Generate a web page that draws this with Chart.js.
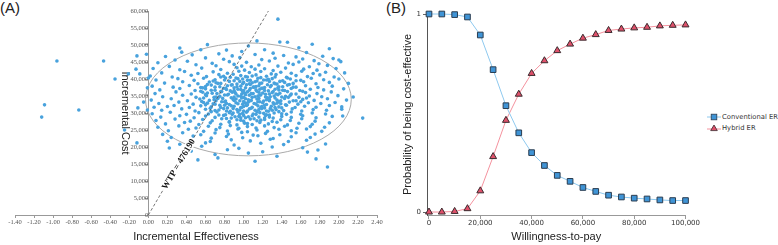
<!DOCTYPE html>
<html>
<head>
<meta charset="utf-8">
<script src="https://cdn.jsdelivr.net/npm/chart.js@4"></script>
<style>
  body { margin: 0; background: #fff; width: 778px; height: 245px; overflow: hidden; position: relative; font-family: "Liberation Sans", Arial, sans-serif; }
  .tag { position: absolute; font-size: 15px; line-height: 17px; color: #222; }
  #boxA { position: absolute; left: 0; top: 0; width: 390px; height: 245px; }
  #boxB { position: absolute; left: 390px; top: 0; width: 310px; height: 245px; }
  #legendB { position: absolute; left: 707px; top: 112px; font: 6.8px "DejaVu Sans", sans-serif; color: #333; }
  #legendB div { height: 10.5px; display: flex; align-items: center; }
  #legendB svg { margin-right: 1px; }
</style>
</head>
<body>
<div class="tag" style="left:0px; top:-1px;">(A)</div>
<div class="tag" style="left:386px; top:-1px;">(B)</div>
<div id="boxA"><canvas id="chartA"></canvas></div>
<div id="boxB"><canvas id="chartB"></canvas></div>
<div id="legendB">
  <div><svg width="14" height="8"><line x1="0" y1="4" x2="14" y2="4" stroke="#8ec9ef" stroke-width="1"/><rect x="4.2" y="1.2" width="5.6" height="5.6" fill="#3f94d6" stroke="#2b3d50" stroke-width="0.8"/></svg>Conventional ER</div>
  <div><svg width="14" height="8"><line x1="0" y1="5" x2="14" y2="5" stroke="#f4929e" stroke-width="1"/><polygon points="7,1 10.3,6.6 3.7,6.6" fill="#e0506a" stroke="#3a2a2e" stroke-width="0.8"/></svg>Hybrid ER</div>
</div>
<script>
// ---------------- panel A : cost-effectiveness plane ----------------
var xTicksA = [-1.4, -1.2, -1.0, -0.8, -0.6, -0.4, -0.2, 0, 0.2, 0.4, 0.6, 0.8, 1.0, 1.2, 1.4, 1.6, 1.8, 2.0, 2.2, 2.4];
var yTicksA = [0, 5000, 10000, 15000, 20000, 25000, 30000, 35000, 40000, 45000, 50000, 55000, 60000];

// incremental effectiveness, incremental cost (thousands)
var outliers = [[-0.96,45.3],[-0.47,45.3],[-1.09,32.4],[-0.73,30.9],[-1.12,28.8],[-0.12,46.8],[-0.02,47.3],
  [-0.13,42.9],[-0.21,41.5],[-0.09,41.5],[0.0,40.3],[-0.01,37.4],[-0.35,40.0],[-0.05,33.2],[-0.01,30.9],
  [-0.11,31.5],[-0.25,25.0],[-0.12,21.2],[2.25,28.5],[2.03,31.8],[2.04,29.1],[2.0,45.6],[1.36,57.6],
  [1.88,14.1],[1.76,16.5],[1.86,20.9],[1.78,19.1],[1.67,18.5],[0.52,16.2],[0.73,16.8],[1.46,50.8]];

var cloud = [
  [1.14,51.2],[1.38,50.9],[0.62,50.1],[1.72,50.2],[1.05,49.7],
  [0.33,49.1],[0.55,48.6],[0.82,48.5],[1.22,48.6],[1.58,49.2],[1.9,48.9],
  [0.35,47.9],[0.98,48.1],[1.31,47.6],[1.66,47.8],[0.74,47.4],
  [0.18,46.6],[0.46,47.1],[0.88,46.8],[1.12,47.2],[1.42,46.9],[1.55,46.5],[1.83,46.7],
  [0.28,45.6],[0.6,46.2],[0.79,45.8],[0.96,46.3],[1.19,45.7],[1.33,46.1],[1.62,45.9],[1.74,45.4],[1.94,46.0],
  [0.1,44.8],[0.41,45.2],[0.67,44.6],[0.85,45.1],[1.03,44.9],[1.27,45.3],[1.47,44.7],[1.58,45.0],[1.79,44.5],[2.02,45.1],
  [0.22,43.7],[0.5,44.2],[0.71,43.9],[0.9,44.3],[1.08,43.6],[1.16,44.1],[1.36,43.8],[1.52,44.3],[1.69,43.6],[1.88,44.0],[0.98,43.8],
  [0.05,43.1],[0.33,42.7],[0.56,43.2],[0.76,42.8],[0.93,43.3],[1.01,42.6],[1.22,43.0],[1.31,42.5],[1.44,43.2],[1.63,42.9],[1.77,42.6],[1.97,43.1],[1.12,42.9],
  [0.14,41.8],[0.38,42.2],[0.52,41.6],[0.68,42.1],[0.83,41.7],[0.95,42.3],[1.06,41.9],[1.18,42.2],[1.29,41.5],[1.39,42.0],[1.5,41.7],[1.61,42.3],[1.73,41.6],[1.86,42.0],[2.06,41.8],[0.89,41.4],
  [0.02,40.9],[0.25,40.6],[0.45,41.1],[0.61,40.7],[0.74,41.3],[0.86,40.5],[0.97,41.0],[1.04,40.6],[1.13,41.2],[1.24,40.8],[1.34,41.3],[1.45,40.5],[1.55,41.0],[1.67,40.7],[1.8,41.2],[1.95,40.6],[1.09,40.9],[0.79,40.8],
  [0.08,39.7],[0.31,40.1],[0.48,39.6],[0.58,40.2],[0.7,39.8],[0.81,40.3],[0.9,39.5],[0.99,40.0],[1.07,39.6],[1.15,40.2],[1.21,39.7],[1.3,40.1],[1.41,39.5],[1.49,40.0],[1.6,39.6],[1.71,40.2],[1.84,39.8],[2.0,40.0],[1.26,39.9],[0.94,40.1],
  [0.17,38.8],[0.36,39.2],[0.52,38.6],[0.64,39.1],[0.76,38.7],[0.85,39.3],[0.93,38.5],[1.0,39.0],[1.06,38.6],[1.12,39.2],[1.19,38.8],[1.27,39.3],[1.35,38.5],[1.43,39.0],[1.52,38.7],[1.63,39.2],[1.76,38.6],[1.9,39.0],[0.71,38.9],[1.09,38.9],[1.32,38.8],[2.1,38.7],
  [0.04,37.9],[0.26,37.6],[0.43,38.1],[0.55,37.5],[0.66,38.2],[0.75,37.7],[0.83,38.0],[0.9,37.4],[0.97,37.9],[1.03,38.3],[1.1,37.6],[1.16,38.0],[1.22,37.5],[1.29,38.1],[1.37,37.7],[1.46,38.2],[1.55,37.6],[1.65,38.0],[1.78,37.5],[1.93,37.9],[0.87,38.2],[1.13,37.8],[1.41,37.7],[0.6,37.8],
  [0.12,36.8],[0.33,37.2],[0.49,36.6],[0.6,37.1],[0.7,36.7],[0.79,37.3],[0.86,36.5],[0.94,37.0],[1.0,36.6],[1.07,37.2],[1.13,36.8],[1.2,37.3],[1.26,36.5],[1.33,37.0],[1.41,36.7],[1.5,37.2],[1.59,36.6],[1.7,37.0],[1.84,36.8],[2.05,37.1],[0.97,36.9],[1.17,37.0],[0.82,36.9],[1.37,36.8],
  [0.07,35.7],[0.29,36.2],[0.45,35.6],[0.57,36.1],[0.67,35.8],[0.76,36.3],[0.84,35.5],[0.91,36.0],[0.98,35.6],[1.04,36.2],[1.1,35.7],[1.16,36.1],[1.23,35.5],[1.3,36.0],[1.38,35.8],[1.46,36.3],[1.55,35.6],[1.65,36.0],[1.77,35.7],[1.92,36.2],[1.01,35.9],[1.2,35.9],[0.88,36.1],[1.34,35.6],[0.62,35.9],
  [0.15,34.8],[0.36,35.2],[0.5,34.6],[0.61,35.1],[0.71,34.7],[0.8,35.3],[0.87,34.5],[0.94,35.0],[1.0,34.6],[1.06,35.2],[1.12,34.8],[1.18,35.3],[1.25,34.5],[1.32,35.0],[1.4,34.7],[1.49,35.2],[1.58,34.6],[1.69,35.0],[1.82,34.8],[1.99,35.1],[0.97,34.9],[1.15,35.0],[1.28,34.8],[0.75,34.9],[1.44,34.9],[2.15,34.7],
  [0.03,33.8],[0.24,34.2],[0.41,33.6],[0.54,34.1],[0.64,33.7],[0.73,34.3],[0.81,33.5],[0.89,34.0],[0.96,33.6],[1.02,34.2],[1.08,33.7],[1.14,34.1],[1.21,33.5],[1.27,34.0],[1.35,33.8],[1.43,34.3],[1.52,33.6],[1.62,34.0],[1.74,33.7],[1.88,34.2],[1.05,33.9],[1.24,33.9],[0.92,34.1],[1.39,33.6],[0.69,33.9],[2.08,33.8],
  [0.11,32.8],[0.32,33.2],[0.47,32.6],[0.58,33.1],[0.68,32.7],[0.77,33.3],[0.85,32.5],[0.92,33.0],[0.99,32.6],[1.05,33.2],[1.11,32.8],[1.17,33.3],[1.24,32.5],[1.31,33.0],[1.39,32.7],[1.48,33.2],[1.57,32.6],[1.68,33.0],[1.81,32.8],[1.96,33.1],[1.02,32.9],[1.2,33.0],[0.82,32.8],[1.35,32.9],[0.62,32.9],[1.6,33.3],
  [0.06,31.7],[0.27,32.2],[0.43,31.6],[0.55,32.1],[0.66,31.8],[0.75,32.3],[0.83,31.5],[0.9,32.0],[0.97,31.6],[1.03,32.2],[1.09,31.7],[1.15,32.1],[1.22,31.5],[1.29,32.0],[1.37,31.8],[1.45,32.3],[1.54,31.6],[1.64,32.0],[1.76,31.7],[1.9,32.2],[1.0,31.9],[1.19,31.9],[0.87,32.1],[1.33,31.6],[0.2,31.9],
  [0.14,30.8],[0.35,31.2],[0.49,30.6],[0.6,31.1],[0.7,30.7],[0.79,31.3],[0.86,30.5],[0.93,31.0],[1.0,30.6],[1.06,31.2],[1.12,30.8],[1.19,31.3],[1.26,30.5],[1.34,31.0],[1.42,30.7],[1.51,31.2],[1.61,30.6],[1.73,31.0],[1.87,30.8],[0.96,30.9],[1.16,31.0],[0.74,30.9],[1.3,30.8],[2.03,31.1],
  [0.04,29.8],[0.23,30.2],[0.4,29.6],[0.53,30.1],[0.63,29.7],[0.72,30.3],[0.81,29.5],[0.89,30.0],[0.96,29.6],[1.03,30.2],[1.1,29.7],[1.17,30.1],[1.24,29.5],[1.32,30.0],[1.4,29.8],[1.5,30.3],[1.6,29.6],[1.72,30.0],[1.86,29.7],[0.99,29.9],[1.21,29.9],[0.85,30.1],[1.45,29.6],
  [0.13,28.8],[0.33,29.2],[0.48,28.6],[0.6,29.1],[0.7,28.7],[0.79,29.3],[0.87,28.5],[0.95,29.0],[1.02,28.6],[1.09,29.2],[1.16,28.8],[1.23,29.3],[1.31,28.5],[1.4,29.0],[1.5,28.7],[1.62,29.2],[1.76,28.6],[1.93,29.0],[1.05,28.9],[0.91,28.9],[1.27,28.8],
  [0.08,27.8],[0.28,28.2],[0.44,27.6],[0.57,28.1],[0.67,27.7],[0.77,28.3],[0.85,27.5],[0.93,28.0],[1.0,27.6],[1.07,28.2],[1.14,27.7],[1.22,28.1],[1.3,27.5],[1.39,28.0],[1.49,27.8],[1.61,28.3],[1.75,27.6],[0.97,27.9],[1.18,27.9],
  [0.18,26.8],[0.38,27.2],[0.53,26.6],[0.65,27.1],[0.76,26.7],[0.85,27.3],[0.93,26.5],[1.01,27.0],[1.09,26.6],[1.17,27.2],[1.26,26.8],[1.35,27.3],[1.46,26.5],[1.58,27.0],[1.72,26.7],[1.9,27.1],[1.04,26.9],
  [0.1,25.8],[0.32,26.2],[0.5,25.6],[0.63,26.1],[0.75,25.7],[0.86,26.3],[0.95,25.5],[1.04,26.0],[1.13,25.6],[1.22,26.2],[1.32,25.7],[1.43,26.1],[1.56,25.5],[1.7,26.0],[1.85,25.8],
  [0.21,24.8],[0.42,25.2],[0.58,24.6],[0.71,25.1],[0.83,24.7],[0.94,25.3],[1.04,24.5],[1.14,25.0],[1.25,24.6],[1.37,25.2],[1.5,24.8],[1.66,25.3],[1.82,24.6],
  [0.15,23.7],[0.36,24.2],[0.55,23.6],[0.7,24.1],[0.84,23.8],[0.98,24.3],[1.1,23.5],[1.23,24.0],[1.38,23.6],[1.55,24.2],[1.75,23.8],
  [0.24,22.8],[0.47,23.2],[0.66,22.6],[0.82,23.1],[0.99,22.7],[1.15,23.3],[1.31,22.5],[1.5,23.0],[1.7,22.8],
  [0.2,21.7],[0.44,22.2],[0.65,21.6],[0.87,22.1],[1.07,21.8],[1.28,22.3],[1.47,21.6],[1.66,22.0],
  [0.33,20.8],[0.6,21.2],[0.9,20.6],[1.18,21.1],[1.42,20.7],
  [0.22,19.7],[0.56,20.2],[0.95,19.6],[1.3,20.0],[1.62,19.8],
  [0.45,18.8],[0.83,19.2],[1.2,18.6],
  [0.7,17.8],[1.05,18.2],[1.35,17.3],[1.12,15.8]
];

// extra points in the dense middle of the cloud
var core = [
  [0.76,40.6],[0.92,40.3],[1.02,40.7],[1.18,40.4],[1.33,40.6],[1.46,40.3],
  [0.68,39.4],[0.8,39.7],[0.96,39.3],[1.04,39.6],[1.14,39.4],[1.24,39.7],[1.38,39.3],[1.55,39.5],
  [0.62,38.4],[0.73,38.7],[0.88,38.3],[0.99,38.6],[1.07,38.4],[1.17,38.7],[1.25,38.3],[1.33,38.6],[1.48,38.4],
  [0.57,37.4],[0.7,37.6],[0.81,37.3],[0.93,37.7],[1.02,37.4],[1.11,37.6],[1.19,37.3],[1.28,37.7],[1.36,37.4],[1.52,37.6],
  [0.55,36.4],[0.66,36.7],[0.77,36.3],[0.9,36.6],[0.99,36.3],[1.06,36.7],[1.14,36.4],[1.22,36.6],[1.31,36.3],[1.43,36.6],[1.62,36.4],
  [0.6,35.4],[0.72,35.7],[0.83,35.3],[0.92,35.6],[1.02,35.4],[1.08,35.7],[1.17,35.3],[1.27,35.6],[1.36,35.4],[1.5,35.6],
  [0.58,34.4],[0.69,34.6],[0.78,34.3],[0.9,34.7],[0.98,34.4],[1.09,34.6],[1.16,34.3],[1.23,34.7],[1.33,34.4],[1.47,34.6],[1.66,34.4],
  [0.56,33.4],[0.71,33.6],[0.8,33.3],[0.9,33.7],[1.0,33.4],[1.07,33.6],[1.15,33.3],[1.27,33.6],[1.37,33.4],[1.55,33.6],
  [0.6,32.4],[0.7,32.6],[0.8,32.3],[0.94,32.7],[1.04,32.4],[1.13,32.6],[1.22,32.3],[1.32,32.6],[1.44,32.4],
  [0.65,31.4],[0.76,31.6],[0.89,31.3],[0.98,31.6],[1.08,31.4],[1.18,31.6],[1.28,31.3],[1.4,31.5],
  [0.66,30.4],[0.82,30.6],[0.94,30.3],[1.04,30.6],[1.14,30.4],[1.24,30.6],[1.37,30.4],
  [0.74,29.4],[0.88,29.6],[1.0,29.3],[1.13,29.6],[1.27,29.4],
  [0.82,28.4],[0.97,28.6],[1.11,28.3],[1.22,28.5]
];

var wtpLine = [[0, 0], [1.26, 60000]];
var wtpText = 'WTP = 476190';
var wtpTextAt = 0.315;
var ellipseCenter = [1.05, 34000];
var ellipseRadii = [1.08, 16600];

// ---------------- panel B : acceptability curve ----------------
var wtpB = [0, 5000, 10000, 15000, 20000, 25000, 30000, 35000, 40000, 45000, 50000, 55000, 60000, 65000, 70000, 75000, 80000, 85000, 90000, 95000, 100000];
var conventional = [1, 1, 0.997, 0.985, 0.894, 0.719, 0.537, 0.40, 0.30, 0.235, 0.185, 0.155, 0.124, 0.104, 0.085, 0.076, 0.07, 0.066, 0.061, 0.058, 0.058];
var hybrid = [0, 0, 0.003, 0.017, 0.107, 0.28, 0.463, 0.595, 0.70, 0.764, 0.815, 0.848, 0.878, 0.896, 0.917, 0.924, 0.93, 0.933, 0.94, 0.943, 0.945];
var xTicksB = [0, 20000, 40000, 60000, 80000, 100000];
var yTicksB = [0, 1];

// ----------------------------------------------------------------

const toXY = (p) => ({ x: p[0], y: p[1] * 1000 });

const ellipsePlugin = {
  id: 'ellipse',
  beforeDatasetsDraw(chart) {
    const xs = chart.scales.x, ys = chart.scales.y, ctx = chart.ctx;
    const cx = xs.getPixelForValue(ellipseCenter[0]);
    const cy = ys.getPixelForValue(ellipseCenter[1]);
    const rx = xs.getPixelForValue(ellipseCenter[0] + ellipseRadii[0]) - cx;
    const ry = cy - ys.getPixelForValue(ellipseCenter[1] + ellipseRadii[1]);
    ctx.save();
    ctx.strokeStyle = '#aaaaaa';
    ctx.lineWidth = 1;
    ctx.beginPath();
    ctx.ellipse(cx, cy, rx, ry, 0, 0, Math.PI * 2);
    ctx.stroke();
    ctx.restore();
  },
  afterDatasetsDraw(chart) {
    const xs = chart.scales.x, ys = chart.scales.y, ctx = chart.ctx;
    const x0 = xs.getPixelForValue(wtpLine[0][0]), y0 = ys.getPixelForValue(wtpLine[0][1]);
    const x1 = xs.getPixelForValue(wtpLine[1][0]), y1 = ys.getPixelForValue(wtpLine[1][1]);
    const ang = Math.atan2(y1 - y0, x1 - x0);
    const slope = wtpLine[1][1] / wtpLine[1][0];
    const px = xs.getPixelForValue(wtpTextAt), py = ys.getPixelForValue(wtpTextAt * slope);
    ctx.save();
    ctx.translate(px, py);
    ctx.rotate(ang);
    ctx.font = 'bold 9px "Liberation Serif", serif';
    const w = ctx.measureText(wtpText).width;
    ctx.fillStyle = '#ffffff';
    ctx.fillRect(-w / 2 - 1, -4.5, w + 2, 9);
    ctx.fillStyle = '#111';
    ctx.textAlign = 'center';
    ctx.textBaseline = 'middle';
    ctx.fillText(wtpText, 0, 0.5);
    ctx.restore();
  }
};

const configA = {
  type: 'scatter',
  data: {
    datasets: [{
      type: 'line',
      data: wtpLine.map(p => ({ x: p[0], y: p[1] })),
      borderColor: '#555',
      borderWidth: 0.8,
      borderDash: [3, 2],
      pointRadius: 0,
      fill: false
    }, {
      data: cloud.concat(core, outliers).map(toXY),
      backgroundColor: '#48a2dd',
      borderWidth: 0,
      pointRadius: 1.8
    }]
  },
  plugins: [ellipsePlugin],
  options: {
    responsive: true,
    maintainAspectRatio: false,
    animation: false,
    layout: { padding: { left: 15, right: 13, top: 11, bottom: 0 } },
    plugins: { legend: { display: false }, tooltip: { enabled: false } },
    scales: {
      x: {
        type: 'linear',
        min: -1.4,
        max: 2.4,
        afterBuildTicks: s => { s.ticks = xTicksA.map(v => ({ value: v })); },
        afterFit: s => { s.height = 30; },
        ticks: {
          autoSkip: false,
          maxRotation: 0,
          padding: 0,
          color: '#555',
          font: { family: '"Liberation Serif", serif', size: 6.5 },
          callback: v => v.toFixed(2)
        },
        grid: { drawOnChartArea: false, tickLength: 3, color: '#999' },
        border: { color: '#999', dash: [5, 2, 1, 2] },
        title: {
          display: true,
          text: 'Incremental Effectiveness',
          color: '#222',
          font: { family: '"Liberation Sans", Arial, sans-serif', size: 11 },
          padding: { top: 0, bottom: 1 }
        }
      },
      y: {
        position: { x: 0 },
        min: 0,
        max: 60000,
        afterBuildTicks: s => { s.ticks = yTicksA.map(v => ({ value: v })); },
        afterFit: s => { s.width = 30; },
        ticks: {
          padding: 0.5,
          color: '#555',
          font: { family: '"Liberation Serif", serif', size: 6.5 },
          callback: v => v.toLocaleString('en-US')
        },
        grid: { drawOnChartArea: false, tickLength: 3, color: '#999' },
        border: { color: '#999' },
        title: {
          display: true,
          text: 'Incremental Cost',
          color: '#222',
          font: { family: '"Liberation Sans", Arial, sans-serif', size: 11 },
          padding: { top: 0, bottom: 0 }
        }
      }
    }
  }
};

const configB = {
  type: 'line',
  data: {
    datasets: [{
      label: 'Conventional ER',
      data: wtpB.map((w, i) => ({ x: w, y: conventional[i] })),
      borderColor: '#8ec9ef',
      borderWidth: 1,
      backgroundColor: '#3f94d6',
      pointStyle: 'rect',
      pointRadius: 4,
      pointBorderColor: '#2b3d50',
      pointBorderWidth: 1,
      clip: false
    }, {
      label: 'Hybrid ER',
      data: wtpB.map((w, i) => ({ x: w, y: hybrid[i] })),
      borderColor: '#f4929e',
      borderWidth: 1,
      backgroundColor: '#e0506a',
      pointStyle: 'triangle',
      pointRadius: 4,
      pointBorderColor: '#3a2a2e',
      pointBorderWidth: 1,
      clip: false
    }]
  },
  options: {
    responsive: true,
    maintainAspectRatio: false,
    animation: false,
    layout: { padding: { left: 0, right: 13, top: 14, bottom: 0 } },
    plugins: { legend: { display: false }, tooltip: { enabled: false } },
    scales: {
      x: {
        type: 'linear',
        min: -775,
        max: 100000,
        afterBuildTicks: s => { s.ticks = xTicksB.map(v => ({ value: v })); },
        afterFit: s => { s.height = 30; },
        ticks: {
          padding: 0,
          maxRotation: 0,
          color: '#333',
          font: { family: '"DejaVu Sans", sans-serif', size: 7 },
          callback: v => v.toLocaleString('en-US')
        },
        grid: { drawOnChartArea: false, tickLength: 4, color: '#999' },
        border: { color: '#999' },
        title: {
          display: true,
          text: 'Willingness-to-pay',
          color: '#222',
          font: { family: '"Liberation Sans", Arial, sans-serif', size: 11 },
          padding: { top: 0, bottom: 1.4 }
        }
      },
      y: {
        min: -0.015,
        max: 1,
        afterBuildTicks: s => { s.ticks = yTicksB.map(v => ({ value: v })); },
        afterFit: s => { s.width = 37; },
        ticks: {
          padding: 2,
          color: '#333',
          font: { family: '"DejaVu Sans", sans-serif', size: 7 }
        },
        grid: { drawOnChartArea: false, tickLength: 4, color: '#666' },
        border: { color: '#555' },
        title: {
          display: true,
          text: 'Probability of being cost-effective',
          color: '#222',
          font: { family: '"Liberation Sans", Arial, sans-serif', size: 11 },
          padding: { top: 11, bottom: 0 }
        }
      }
    }
  }
};

var chartA = new Chart(document.getElementById('chartA').getContext('2d'), configA);
var chartB = new Chart(document.getElementById('chartB').getContext('2d'), configB);
</script>
</body>
</html>
